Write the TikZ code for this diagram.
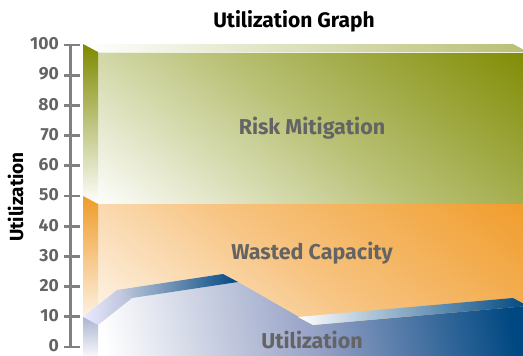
\documentclass[tikz,border=0pt]{standalone}
\usepackage{fontspec}
\setmainfont{Fira Sans}
\definecolor{olive}{RGB}{126,138,0}
\definecolor{olivemid}{RGB}{185,193,118}
\definecolor{orng}{RGB}{240,155,40}
\definecolor{orngmid}{RGB}{247,196,130}
\definecolor{dkblue}{RGB}{0,72,130}
\definecolor{midblue}{RGB}{150,162,198}
\definecolor{axisgray}{RGB}{128,128,128}
\definecolor{txtgray}{RGB}{100,100,100}
\pgfdeclareverticalshading{greenshade}{100bp}{color(0bp)=(white); color(14bp)=(white); color(50bp)=(olivemid); color(86bp)=(olive); color(100bp)=(olive)}
\pgfdeclareverticalshading{orangeshade}{100bp}{color(0bp)=(white); color(14bp)=(white); color(50bp)=(orngmid); color(86bp)=(orng); color(100bp)=(orng)}
\pgfdeclareverticalshading{blueshade}{100bp}{color(0bp)=(white); color(22bp)=(white); color(50bp)=(midblue); color(76bp)=(dkblue); color(100bp)=(dkblue)}
\begin{document}
\begin{tikzpicture}[x=1pt,y=-1pt,
  axisline/.style={draw=axisgray,line width=3.5pt},
  tickline/.style={draw=axisgray,line width=2.8pt},
  numlbl/.style={anchor=east,text=txtgray,font=\fontsize{17.5}{17.5}\selectfont\bfseries,inner sep=0pt},
  bandlbl/.style={text=txtgray,font=\fontsize{21.5}{21.5}\selectfont\bfseries,inner sep=0pt}
]
\useasboundingbox (0,0) rectangle (523,356);
\clip (0,0) rectangle (523,356);
% ---- green band (risk mitigation)
\path[shading=greenshade,shading angle=-37]
  (98,52) rectangle (530,204);
\path[left color=white,right color=olive!55]
  (83,44) -- (513,44) -- (528,52) -- (98,52) -- cycle;
\draw[white!70!olive!40,line width=0.8pt] (98,52) -- (530,52);
\path[top color=olive,bottom color=white]
  (83,44) -- (98,52) -- (98,204) -- (83,196) -- cycle;
% ---- orange band (wasted capacity)
\path[shading=orangeshade,shading angle=-37]
  (98,204) rectangle (530,356);
\path[top color=orng,bottom color=orng!8]
  (83,196) -- (98,204) -- (98,325) -- (83,317) -- cycle;
% ---- blue shape (utilization)
\path[shading=blueshade,shading angle=-80]
  (98,325) -- (132,298) -- (238,282) -- (313,325) -- (528,306) -- (528,360) -- (98,360) -- cycle;
\path[left color=blue!8!white,right color=midblue!70!white]
  (83,317) -- (117,290) -- (132,298) -- (98,325) -- cycle;
\path[left color=midblue!55!white,right color=dkblue]
  (117,290) -- (223,274) -- (238,282) -- (132,298) -- cycle;
\path[left color=white,right color=dkblue]
  (298,317) -- (513,298) -- (528,306) -- (313,325) -- cycle;
\path[top color=midblue!80!white,bottom color=white]
  (83,317) -- (98,325) -- (98,360) -- (83,360) -- cycle;
% ---- axis
\draw[axisline] (70.5,45) -- (70.5,347);
\foreach \v in {0,10,...,100}{
  \draw[tickline] (64,{347-3.02*\v}) -- (80,{347-3.02*\v});
  \node[numlbl] (n\v) at (59,{346-3.02*\v}) {\v};
}
% ---- texts
\node[font=\fontsize{21}{21}\selectfont\bfseries,inner sep=0pt] (title) at (294,21) {Utilization Graph};
\node[font=\fontsize{19}{19}\selectfont\bfseries,rotate=90,inner sep=0pt] (ylab) at (15.5,197) {Utilization};
\node[bandlbl] (risk) at (312,128) {Risk Mitigation};
\node[bandlbl] (waste) at (312,253) {Wasted Capacity};
\node[bandlbl] (util) at (312,340) {Utilization};
\end{tikzpicture}
\end{document}
